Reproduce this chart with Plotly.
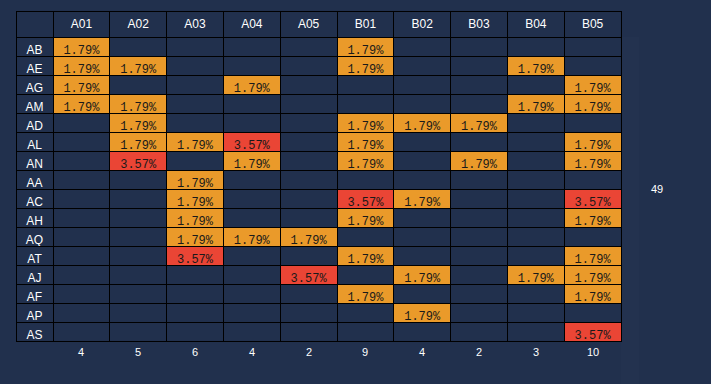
import plotly.graph_objects as go

columns = ["A01", "A02", "A03", "A04", "A05", "B01", "B02", "B03", "B04", "B05"]
rows = ["AB", "AE", "AG", "AM", "AD", "AL", "AN", "AA", "AC", "AH", "AQ", "AT", "AJ", "AF", "AP", "AS"]
# percent values per row, in column order (None = empty)
values = {
    "AB": [1.79, None, None, None, None, 1.79, None, None, None, None],
    "AE": [1.79, 1.79, None, None, None, 1.79, None, None, 1.79, None],
    "AG": [1.79, None, None, 1.79, None, None, None, None, None, 1.79],
    "AM": [1.79, 1.79, None, None, None, None, None, None, 1.79, 1.79],
    "AD": [None, 1.79, None, None, None, 1.79, 1.79, 1.79, None, None],
    "AL": [None, 1.79, 1.79, 3.57, None, 1.79, None, None, None, 1.79],
    "AN": [None, 3.57, None, 1.79, None, 1.79, None, 1.79, None, 1.79],
    "AA": [None, None, 1.79, None, None, None, None, None, None, None],
    "AC": [None, None, 1.79, None, None, 3.57, 1.79, None, None, 3.57],
    "AH": [None, None, 1.79, None, None, 1.79, None, None, None, 1.79],
    "AQ": [None, None, 1.79, 1.79, 1.79, None, None, None, None, None],
    "AT": [None, None, 3.57, None, None, 1.79, None, None, None, 1.79],
    "AJ": [None, None, None, None, 3.57, None, 1.79, None, 1.79, 1.79],
    "AF": [None, None, None, None, None, 1.79, None, None, None, 1.79],
    "AP": [None, None, None, None, None, None, 1.79, None, None, None],
    "AS": [None, None, None, None, None, None, None, None, None, 3.57],
}
column_counts = [4, 5, 6, 4, 2, 9, 4, 2, 3, 10]
total_count = 49

BG = "#21304d"
ORANGE = "#ea9a2a"
RED = "#ea4535"

W, H = 711, 384
tx0, tx1, ty0 = 16, 621, 11
label_w = 37
col_w = (tx1 - tx0 - label_w) / len(columns)

def cell_color(v):
    if v is None:
        return BG
    return RED if v >= 3 else ORANGE

cell_vals = [rows]
cell_fill = [[BG] * len(rows)]
cell_font = ["white"]
cell_family = ["Liberation Sans"]
for j in range(len(columns)):
    col = [values[r][j] for r in rows]
    cell_vals.append([("%.2f%%" % v) if v is not None else "" for v in col])
    cell_fill.append([cell_color(v) for v in col])
    cell_font.append("#1a1a1a")
    cell_family.append("Liberation Mono")

fig = go.Figure(go.Table(
    domain=dict(x=[tx0 / W, tx1 / W], y=[0, 1 - ty0 / H]),
    columnwidth=[label_w] + [col_w] * len(columns),
    header=dict(
        values=[""] + columns,
        fill_color=BG,
        line=dict(color="black", width=1),
        font=dict(color="white", size=12, family="Liberation Sans"),
        align="center",
        height=26,
    ),
    cells=dict(
        values=cell_vals,
        fill_color=cell_fill,
        line=dict(color="black", width=1),
        font=dict(color=cell_font, size=12, family=cell_family),
        align="center",
        height=19,
    ),
))

table_bottom = ty0 + 26 + 19 * len(rows)
for j, c in enumerate(column_counts):
    xc = tx0 + label_w + col_w * (j + 0.5)
    fig.add_annotation(x=xc / W, y=1 - (table_bottom + 11) / H, xref="paper", yref="paper",
                       xanchor="center", yanchor="middle",
                       text=str(c), showarrow=False, font=dict(color="white", size=11, family="Liberation Sans"))
fig.add_annotation(x=657 / W, y=1 - (ty0 + 26 + 19 * len(rows) / 2) / H, xref="paper", yref="paper",
                   xanchor="center", yanchor="middle",
                   text=str(total_count), showarrow=False, font=dict(color="white", size=11, family="Liberation Sans"))

fig.update_layout(width=W, height=H, margin=dict(l=0, r=0, t=0, b=0),
                  paper_bgcolor=BG, plot_bgcolor=BG)
fig.write_html("out.html", config={"displayModeBar": False},
               post_script="document.body.style.margin='0';document.body.style.background='%s';" % BG)
